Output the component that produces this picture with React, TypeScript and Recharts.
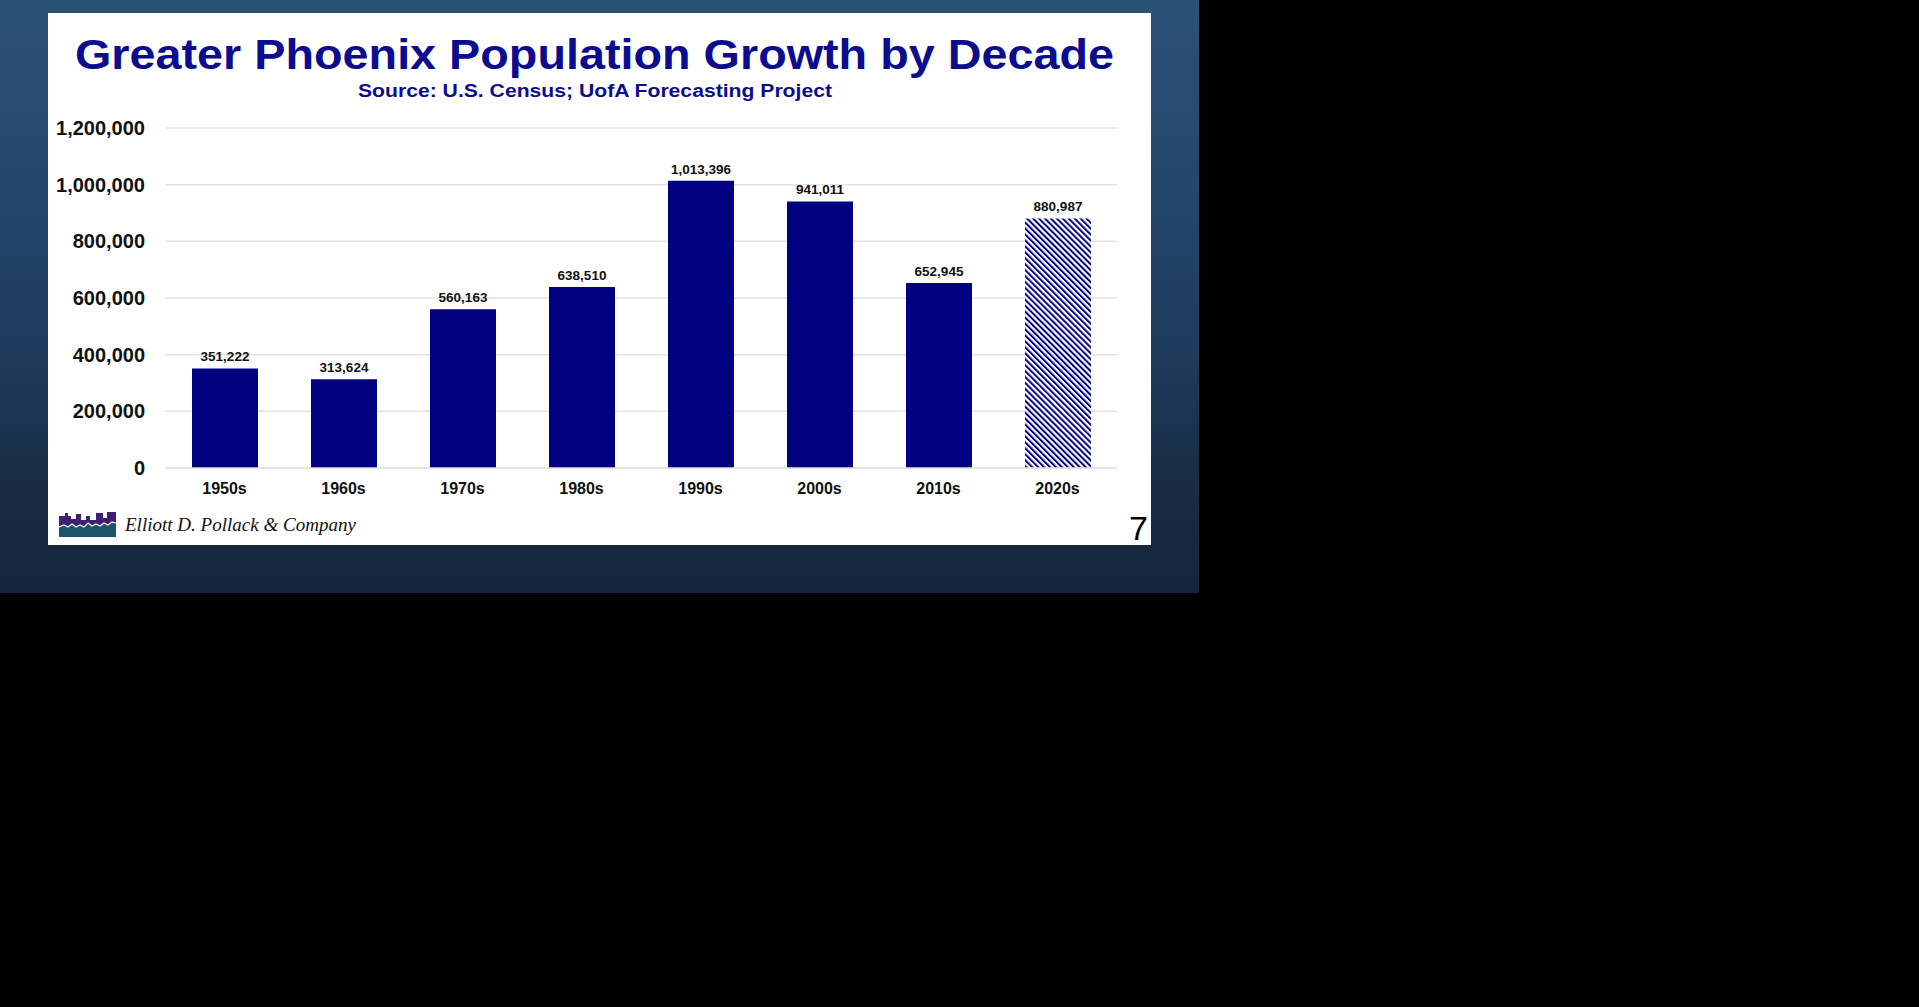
import { BarChart, Bar, XAxis, YAxis, CartesianGrid, Cell, LabelList } from "recharts"

const DECADES = ["1950s", "1960s", "1970s", "1980s", "1990s", "2000s", "2010s", "2020s"]
const GROWTH = [351222, 313624, 560163, 638510, 1013396, 941011, 652945, 880987]
const FORECAST = [false, false, false, false, false, false, false, true]
const Y_TICKS = [0, 200000, 400000, 600000, 800000, 1000000, 1200000]

const NAVY = "#000080"
const FONT = "'Liberation Sans', Arial, sans-serif"

const data = DECADES.map((d, i) => ({ decade: d, growth: GROWTH[i], forecast: FORECAST[i] }))
const fmt = (v: unknown) => Number(v).toLocaleString("en-US")

function Logo() {
  return (
    <svg width={57} height={25} style={{ position: "absolute", left: 59, top: 512 }}>
      <polygon
        points="0,4 6,4 6,1 9,1 9,4 12,4 12,7 17,7 17,2 22,2 22,8 27,8 27,4 31,4 31,8 37,8 37,1 44,1 44,6 48,6 48,0 57,0 57,14 0,14"
        fill="#3e1f70"
      />
      <polygon
        points="0,15 5,13 9,15 13,12 17,15 21,13 25,15 29,11 33,14 37,12 41,14 45,11 49,13 53,10 57,11 57,25 0,25"
        fill="#1d5568"
      />
      <polyline
        points="0,15 5,13 9,15 13,12 17,15 21,13 25,15 29,11 33,14 37,12 41,14 45,11 49,13 53,10 57,11"
        fill="none"
        stroke="#ffffff"
        strokeWidth={1.2}
      />
    </svg>
  )
}

export default function App() {
  return (
    <div style={{ position: "fixed", left: 0, top: 0, width: 1919, height: 1007, background: "#000", overflow: "hidden" }}>
      {/* slide backdrop */}
      <div
        style={{
          position: "absolute", left: 0, top: 0, width: 1199, height: 593,
          background: "linear-gradient(180deg, #2c5176 0%, #23456a 35%, #1d3a5a 62%, #182d46 80%, #15243a 100%)",
        }}
      />
      {/* white slide */}
      <div style={{ position: "absolute", left: 48, top: 13, width: 1103, height: 532, background: "#ffffff" }} />

      <svg width={1919} height={600} style={{ position: "absolute", left: 0, top: 0 }}>
        <text x={75} y={69} fontFamily={FONT} fontWeight="bold" fontSize={43} fill="#0c0c8e"
          textLength={1039} lengthAdjust="spacingAndGlyphs">
          Greater Phoenix Population Growth by Decade
        </text>
        <text x={358} y={97} fontFamily={FONT} fontWeight="bold" fontSize={18} fill="#0c0c8e"
          textLength={474} lengthAdjust="spacingAndGlyphs">
          Source: U.S. Census; UofA Forecasting Project
        </text>
        <text x={125} y={531} fontFamily="'Liberation Serif', 'Times New Roman', serif" fontStyle="italic"
          fontSize={18} fill="#111" textLength={231} lengthAdjust="spacingAndGlyphs">
          Elliott D. Pollack &amp; Company
        </text>
        <text x={1148} y={540} textAnchor="end" fontFamily={FONT} fontSize={34} fill="#000">7</text>
      </svg>

      <Logo />

      <div style={{ position: "absolute", left: 40, top: 100 }}>
        <BarChart width={1090} height={408} data={data} margin={{ top: 28, right: 13, left: 0, bottom: 0 }}>
          <defs>
            <pattern id="hatch" width={4.2} height={4.2} patternUnits="userSpaceOnUse" patternTransform="rotate(-45)">
              <rect x={0} y={0} width={4.2} height={4.2} fill="#ffffff" />
              <rect x={0} y={0} width={2} height={4.2} fill={NAVY} />
            </pattern>
          </defs>
          <CartesianGrid vertical={false} stroke="#e3e3e3" strokeWidth={1.5} />
          <XAxis
            dataKey="decade"
            axisLine={{ stroke: "#e3e3e3", strokeWidth: 1.5 }}
            tickLine={false}
            tickSize={0}
            tickMargin={15}
            height={40}
            tick={{ fill: "#111", fontSize: 16, fontWeight: "bold", fontFamily: FONT }}
          />
          <YAxis
            domain={[0, 1200000]}
            ticks={Y_TICKS}
            tickFormatter={fmt}
            axisLine={false}
            tickLine={false}
            tickSize={0}
            tickMargin={20}
            width={125}
            tick={{ fill: "#111", fontSize: 20, fontWeight: "bold", fontFamily: FONT }}
          />
          <Bar dataKey="growth" barSize={66} isAnimationActive={false}>
            {data.map((d) => (
              <Cell key={d.decade} fill={d.forecast ? "url(#hatch)" : NAVY} />
            ))}
            <LabelList
              dataKey="growth"
              position="top"
              offset={7}
              formatter={fmt}
              style={{ fill: "#111", fontSize: 13.5, fontWeight: "bold", fontFamily: FONT }}
            />
          </Bar>
        </BarChart>
      </div>
    </div>
  )
}
